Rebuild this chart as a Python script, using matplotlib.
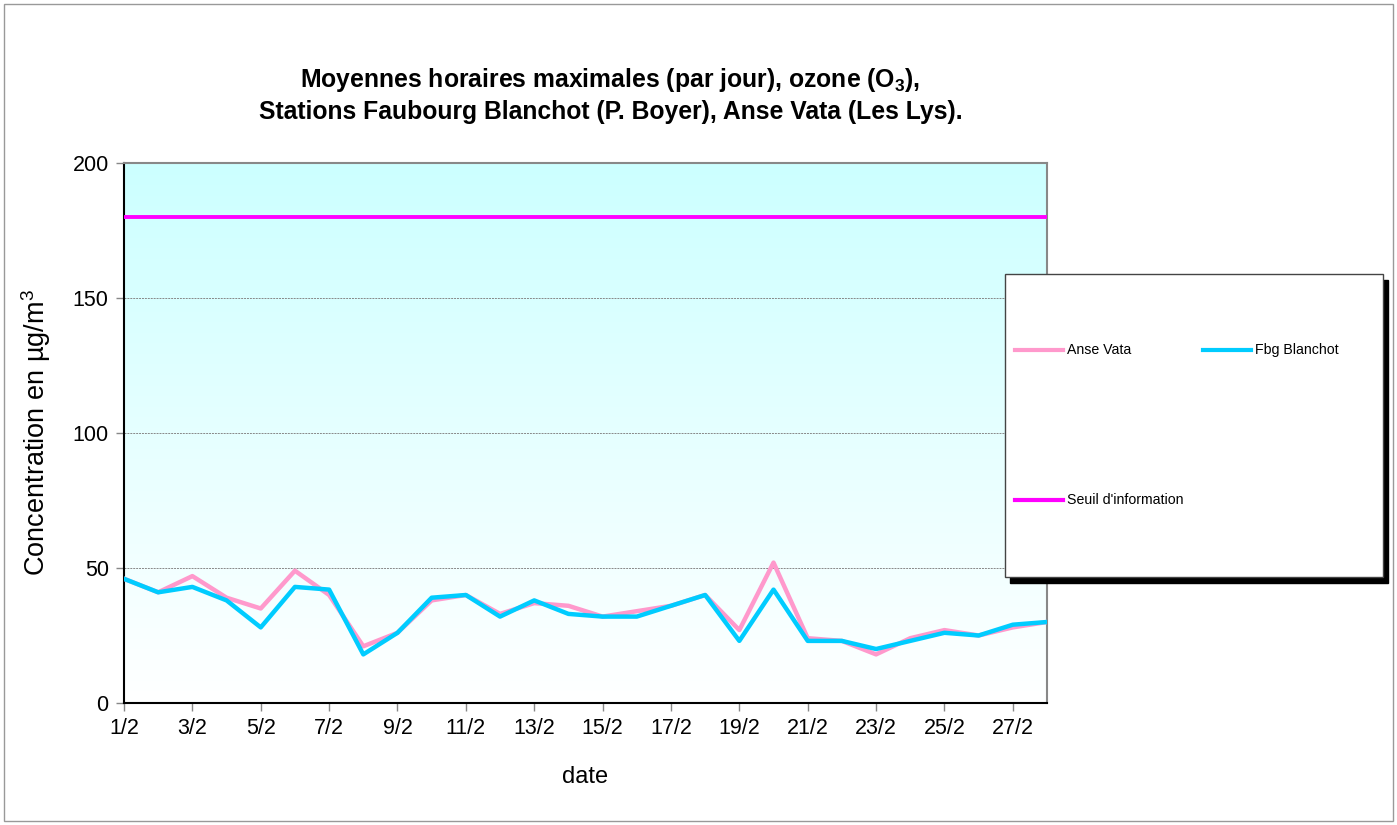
import numpy as np
import matplotlib
matplotlib.use("Agg")
import matplotlib.pyplot as plt
from matplotlib.lines import Line2D
from matplotlib.patches import Rectangle

plt.rcParams['font.family'] = ['Liberation Sans', 'DejaVu Sans']
plt.rcParams['mathtext.fontset'] = 'custom'
plt.rcParams['mathtext.rm'] = 'Liberation Sans'
plt.rcParams['mathtext.bf'] = 'Liberation Sans:bold'
plt.rcParams['mathtext.default'] = 'regular'

days = list(range(1, 29))
tick_labels = [f"{d}/2" for d in days]
anse_vata = [46, 41, 47, 39, 35, 49, 40, 21, 26, 38, 40, 33, 37, 36, 32, 34, 36, 40,
             27, 52, 24, 23, 18, 24, 27, 25, 28, 30]
fbg_blanchot = [46, 41, 43, 38, 28, 43, 42, 18, 26, 39, 40, 32, 38, 33, 32, 32, 36, 40,
                23, 42, 23, 23, 20, 23, 26, 25, 29, 30]
seuil = [180] * 28

fig = plt.figure(figsize=(13.97, 8.25), dpi=100)
ax = fig.add_axes([124/1397, 1-703/825, (1047-124)/1397, (703-163)/825])

# gradient background
grad = np.linspace(0, 1, 256).reshape(-1, 1)
top = np.array([0.80, 1.0, 1.0])
bot = np.array([1.0, 1.0, 1.0])
img = bot + (top - bot) * grad
img = img.reshape(256, 1, 3)
ax.imshow(img, extent=[1, 28, 0, 200], origin='lower', aspect='auto', zorder=0)

for yv in [50, 100, 150]:
    ax.axhline(yv, color='#888888', lw=0.7, ls=(0, (2, 1)), zorder=1)

ax.plot(days, anse_vata, color='#ff99cc', lw=3.2, zorder=3)
ax.plot(days, fbg_blanchot, color='#00ccff', lw=3.2, zorder=4)
ax.plot(days, seuil, color='#ff00ff', lw=2.8, zorder=3)

ax.set_xlim(1, 28)
ax.set_ylim(0, 200)
ax.set_xticks(days[::2])
ax.set_xticklabels(tick_labels[::2], fontsize=15.5)
ax.set_yticks([0, 50, 100, 150, 200])
ax.set_yticklabels(['0', '50', '100', '150', '200'], fontsize=15.5)
ax.tick_params(direction='out', length=6, width=1, color='#888888', pad=5)
for s in ['left', 'bottom']:
    ax.spines[s].set_color('#000000')
    ax.spines[s].set_linewidth(1.5)
for s in ['top', 'right']:
    ax.spines[s].set_color('#888888')
    ax.spines[s].set_linewidth(1.5)

ax.set_xlabel('date', fontsize=17, labelpad=19)
ax.set_ylabel(r'Concentration en µg/m$^3$', fontsize=19.5, labelpad=14)

fig.text(0.437, 1-80/825, r"Moyennes horaires maximales (par jour), ozone (O$_\mathbf{3}$),",
         ha='center', va='center', fontsize=17.8, fontweight='bold')
fig.text(0.437, 1-112/825, "Stations Faubourg Blanchot (P. Boyer), Anse Vata (Les Lys).",
         ha='center', va='center', fontsize=17.8, fontweight='bold')

# figure border
fig.patches.append(Rectangle((4/1397, 4/825), 1-8/1397, 1-8/825, transform=fig.transFigure,
                             fill=False, ec='#999999', lw=1))

# legend box with shadow
lx0, lx1, ly0, ly1 = 1005, 1383, 274, 577
def fx(x): return x/1397
def fy(y): return 1-y/825
fig.patches.append(Rectangle((fx(lx0+5), fy(ly1+6)), fx(lx1-lx0), (ly1-ly0)/825,
                             transform=fig.transFigure, fc='black', ec='black', zorder=5))
fig.patches.append(Rectangle((fx(lx0), fy(ly1)), fx(lx1-lx0), (ly1-ly0)/825,
                             transform=fig.transFigure, fc='white', ec='#444444', lw=1, zorder=6))
entries = [('Anse Vata', '#ff99cc', 1015, 350), ('Fbg Blanchot', '#00ccff', 1203, 350),
           ('Seuil d\'information', '#ff00ff', 1015, 500)]
for lab, col, x0, y0 in entries:
    fig.lines.append(Line2D([fx(x0), fx(x0+48)], [fy(y0), fy(y0)], transform=fig.transFigure,
                            color=col, lw=3, zorder=7))
    fig.text(fx(x0+52), fy(y0), lab, ha='left', va='center', fontsize=10.2, zorder=7)

fig.savefig('out.png', dpi=100)
